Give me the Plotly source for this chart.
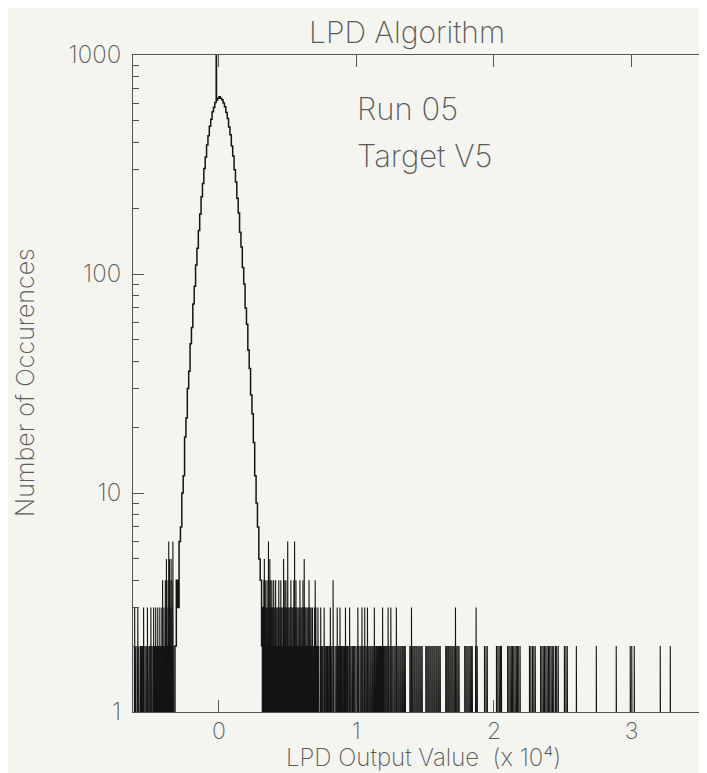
import plotly.graph_objects as go

# ---------------- data ----------------
# Central peak: histogram bin left edges (x 10^4) and counts
core_edges = [-0.32, -0.31, -0.30, -0.29, -0.28, -0.27, -0.26, -0.25, -0.24, -0.23,
              -0.22, -0.21, -0.20, -0.19, -0.18, -0.17, -0.16, -0.15, -0.14, -0.13,
              -0.12, -0.11, -0.10, -0.09, -0.08, -0.07, -0.06, -0.05, -0.04, -0.03,
              -0.02, -0.018, -0.01, 0.00, 0.01, 0.02, 0.03, 0.04, 0.05, 0.06,
              0.07, 0.08, 0.09, 0.10, 0.11, 0.12, 0.13, 0.14, 0.15, 0.16,
              0.17, 0.18, 0.19, 0.20, 0.21, 0.22, 0.23, 0.24, 0.25, 0.26,
              0.27, 0.28, 0.29, 0.30, 0.31, 0.32]
core_counts = [2, 4, 3, 6, 7, 10, 12, 18, 22, 30,
               36, 48, 57, 73, 88, 110, 131, 158, 188, 225,
               259, 303, 342, 388, 428, 473, 509, 550, 578, 607,
               3000, 621, 635, 645, 634, 624, 603, 581, 546, 513,
               469, 432, 384, 346, 299, 263, 222, 190, 155, 133,
               107, 90, 70, 59, 45, 37, 28, 23, 17, 12,
               9, 7, 5, 4, 2, 3]
core_last_edge = 0.33

# Sparse tail bins (raw LPD output values), grouped by their count
tail_count2 = [
    -6150, -6080, -5960, -5900, -5820, -5700, -5640, -5560, -5480, -5380, -5300, -5240,
    -5150, -5040, -4960, -4880, -4800, -4740, -4690, -4640, -4590, -4540, -4490, -4440,
    -4390, -4340, -4290, -4240, -4190, -4140, -4090, -4040, -3990, -3940, -3890, -3840,
    -3790, -3740, -3690, -3620, -3550, -3470, -3400, -3330,
    3150, 3200, 3260, 3310, 3350, 3410, 3460, 3500, 3560, 3610, 3650, 3710, 3760, 3800,
    3860, 3910, 3950, 4010, 4060, 4100, 4160, 4210, 4250, 4310, 4360, 4400, 4460, 4510,
    4550, 4610, 4660, 4700, 4760, 4810, 4850, 4910, 4960, 5000, 5060, 5110, 5150, 5210,
    5260, 5300, 5360, 5410, 5450, 5510, 5560, 5600, 5660, 5710, 5750, 5810, 5860, 5900,
    5960, 6010, 6050, 6110, 6160, 6200, 6260, 6310, 6350, 6410, 6460, 6500, 6560, 6610,
    6650, 6710, 6760, 6800, 6860, 6910, 6950, 7010, 7060, 7100, 7160, 7210, 7260,
    7380, 7470, 7540, 7640,
    7720, 7780, 7830, 7890, 7940, 8000, 8050, 8110, 8160, 8220, 8330, 8440,
    8520, 8580, 8630, 8690, 8740, 8800, 8850, 8910, 8960, 9020, 9070, 9130, 9180, 9240,
    9290, 9350, 9440, 9530, 9610, 9700, 9790, 9870, 9960, 10050, 10140,
    10250, 10320, 10400, 10470, 10550, 10620, 10700, 10770, 10850, 10920, 11000, 11070,
    11150, 11220, 11300, 11370, 11450, 11520, 11600, 11670, 11750, 11820, 11900, 11970,
    12050, 12120, 12200,
    12280, 12350, 12430, 12500, 12580, 12650, 12730, 12800, 12880, 12950, 13030, 13100,
    13180, 13250, 13330, 13400, 13480, 13550,
    13880, 13950, 14030, 14100, 14180, 14250, 14330, 14400, 14480, 14550, 14630, 14700, 14780,
    15040, 15110, 15190, 15260, 15340, 15410, 15490, 15560, 15640, 15710, 15790, 15860,
    15940, 16010, 16090,
    16490, 16560, 16640, 16710, 16790, 16860, 16940, 17010, 17090, 17160, 17240, 17310,
    17390, 17460,
    17870, 17950, 18030, 18110, 18190, 18270, 18350, 18420, 18660, 18780, 19310, 19420, 19510,
    20180, 20280, 20380, 20480, 20540,
    20990, 21080, 21170, 21260, 21350, 21440, 21530, 21620, 21710, 21800, 21900,
    22580, 22680, 22800, 22900, 23000,
    23390, 23480, 23580, 23670, 23770, 23860, 23960, 24050, 24150, 24240, 24340,
    24470, 24560, 24670, 25120, 25230, 25330,
    25990, 27440, 28890, 29910, 30020, 30200, 32090, 32820]
tail_count3 = [
    -6130, -5900, -5480, -5200, -4950, -4750, -4600, -4450, -4300, -4150, -4000, -3850,
    -3700, -3550, -3400,
    3180, 3250, 3330, 3400, 3470, 3550, 3620, 3690, 3770, 3840, 3910, 3990, 4060, 4130,
    4210, 4280, 4350, 4430, 4500, 4570, 4650, 4720, 4790, 4870, 4940, 5010, 5090, 5160,
    5230, 5310, 5380, 5450, 5530, 5600, 5670, 5750, 5820, 5890, 5970, 6040, 6110, 6190,
    6260, 6330, 6410, 6480, 6550, 6630, 6700,
    6800, 6950, 7050, 7200, 7400, 7650, 8100, 8600, 8800, 9200, 9500, 10100, 10400,
    10600, 10800, 11300, 11900, 12300, 12500, 12900, 14000, 17200, 18700]
tail_count4 = [-4100, -3900, -3700, -3560, -3420,
               3270, 3350, 3420, 3560, 3640, 3770, 3850, 3980, 4120, 4350, 4500, 4790,
               4870, 5230, 5450, 5600, 5890, 6110, 6550, 7000, 8300]
tail_count5 = [-3820, -3600, -3480, 3300, 3700, 4700, 6200]
tail_count6 = [-3650, -3350, 3600, 5000, 5500]

BIN_WIDTH = 40          # raw units per tail bin
SCALE = 1e4             # axis is in units of 10^4
FLOOR = 0.3             # below the log-axis range (empty bins)

# ---------------- build step traces ----------------
cx = [core_edges[0]] + core_edges + [core_last_edge]
cy = [FLOOR] + core_counts + [FLOOR]

tx, ty = [], []
for cnt, positions in [(2, tail_count2), (3, tail_count3), (4, tail_count4),
                       (5, tail_count5), (6, tail_count6)]:
    for p in positions:
        a = p / SCALE
        b = (p + BIN_WIDTH) / SCALE
        tx += [a, a, b, b, None]
        ty += [FLOOR, cnt, cnt, FLOOR, None]

BG = "#f5f5ef"
INK = "#141414"
AX = "#555555"
TXT = "#5a5a5a"
FONT = "Inter, DejaVu Sans"
W = 200

def f(size):
    return dict(size=size, family=FONT, color=TXT, weight=W)

fig = go.Figure()
fig.add_trace(go.Scatter(x=tx, y=ty, mode="lines", line=dict(color=INK, width=1.1),
                         hoverinfo="skip", showlegend=False))
fig.add_trace(go.Scatter(x=cx, y=cy, mode="lines", line_shape="hv",
                         line=dict(color=INK, width=1.5), showlegend=False))

fig.update_layout(
    width=707, height=773,
    paper_bgcolor=BG, plot_bgcolor=BG,
    margin=dict(l=125, r=1, t=47, b=69),
    font=f(24),
    title=dict(text="LPD Algorithm", xref="container", x=301/707, xanchor="left",
               yref="container", y=1 - 24.5/773, yanchor="middle", font=f(30)),
    annotations=[
        dict(text="Run 05", xref="paper", yref="paper", x=(347-125)/581, y=(704-121)/657,
             xanchor="left", yanchor="bottom", showarrow=False, font=f(31)),
        dict(text="Target V5", xref="paper", yref="paper", x=(347-125)/581, y=(704-168)/657,
             xanchor="left", yanchor="bottom", showarrow=False, font=f(31)),
        dict(text="LPD Output Value&nbsp;&nbsp;(x 10⁴)", xref="paper", yref="paper",
             x=(415-125)/581, y=-(766-704)/657, xanchor="center", yanchor="bottom",
             showarrow=False, font=f(24)),
        dict(text="Number of Occurences", textangle=-90, xref="paper", yref="paper",
             x=(17-125)/581, y=(704-375)/657, xanchor="center", yanchor="middle",
             showarrow=False, font=f(25)),
    ],
)

fig.update_xaxes(
    range=[-0.625, 3.6], tickvals=[0, 1, 2, 3], ticktext=["0", "1", "2", "3"],
    ticks="inside", ticklen=12, tickcolor=AX, mirror="ticks",
    showline=True, linecolor=AX, linewidth=1, showgrid=False, zeroline=False,
    tickfont=f(23), ticklabelstandoff=-2,
)
fig.update_yaxes(
    type="log", range=[0, 3], tickvals=[1, 10, 100, 1000], ticktext=["1", "10", "100", "1000"],
    ticks="inside", ticklen=11, tickcolor=AX, mirror="ticks",
    minor=dict(ticks="inside", ticklen=6, tickcolor=AX, dtick="D1", showgrid=False),
    showline=True, linecolor=AX, linewidth=1, showgrid=False, zeroline=False,
    tickfont=f(24), ticklabelstandoff=6,
)

fig.write_html("out.html")
